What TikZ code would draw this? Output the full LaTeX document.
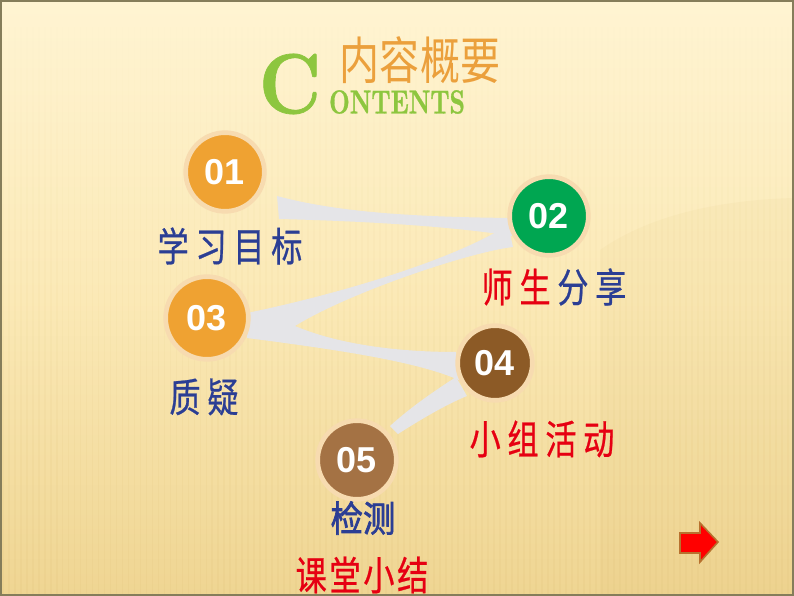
\documentclass[tikz,border=0pt]{standalone}
\usepackage{fontspec}
\usetikzlibrary{fadings}
\newfontfamily\cjkn[FakeStretch=0.78,FakeBold=0.6]{Noto Sans CJK SC}
\newfontfamily\cjkt[FakeStretch=0.79]{Noto Sans CJK SC}
\newfontfamily\cjkb[FakeStretch=0.9,FakeBold=2]{Noto Sans CJK SC}
\newfontfamily\numf{Liberation Sans}
\newfontfamily\didone[FakeStretch=0.72,FakeBold=0.8]{lmroman10-bold.otf}
\newfontfamily\didonec[FakeStretch=0.88,FakeBold=0.8]{lmroman10-bold.otf}
\definecolor{bgtop}{HTML}{FFF4D2}
\definecolor{bgmid}{HTML}{FBE9B6}
\definecolor{bgbot}{HTML}{EFD592}
\definecolor{stripe}{HTML}{D9B96A}
\definecolor{wedge}{HTML}{E5E5E8}
\definecolor{orng}{HTML}{EFA232}
\definecolor{grn}{HTML}{00A651}
\definecolor{brn}{HTML}{8C5A26}
\definecolor{lbrn}{HTML}{A47244}
\definecolor{halo}{HTML}{F7DBB0}
\definecolor{navy}{HTML}{2B3E94}
\definecolor{lred}{HTML}{E60012}
\definecolor{titleor}{HTML}{EBA03C}
\definecolor{cgreen}{HTML}{8DC63F}
\definecolor{frame}{HTML}{857D5A}
\definecolor{arrowedge}{HTML}{B8712E}
\tikzfading[name=stripefade, top color=transparent!100, bottom color=transparent!10]
\tikzset{
  circ/.style={circle, draw=halo, line width=3.5pt, inner sep=0pt, text=white,
    font=\numf\bfseries\fontsize{27}{27}\selectfont},
  lab/.style={inner sep=0pt, font=\cjkn\fontsize{30}{32}\selectfont},
  wedgefill/.style={fill=wedge, draw=none}
}
\begin{document}
\begin{tikzpicture}[x=0.75pt,y=-0.75pt]
\useasboundingbox (0,0) rectangle (794,596);
% background
\shade[top color=bgtop, bottom color=bgbot, middle color=bgmid] (0,0) rectangle (794,596);
\draw[stripe, opacity=0.13, line width=1.4pt, path fading=stripefade]
  \foreach \i in {3,9,...,794} { (\i,20) -- (\i,596) };
\fill[stripe, opacity=0.08] (600,596) -- (600,250) .. controls (650,215) and (720,200) .. (794,198) -- (794,596) -- cycle;
\draw[frame, line width=1.2pt] (0.8,0.8) rectangle (793.2,595.2);

% title
\node[inner sep=0pt, text=cgreen, font=\didonec\fontsize{64}{64}\selectfont] (bigc) at (290,84) {C};
\node[inner sep=0pt, text=cgreen, font=\didone\fontsize{25}{25}\selectfont] (ontents) at (397,102) {ONTENTS};
\node[inner sep=0pt, text=titleor, font=\cjkt\fontsize{38}{40}\selectfont] (title) at (420,60) {内容概要};

% connectors (tapered grey bands)
\coordinate (a1) at (277,196);
\coordinate (a2) at (512,218);
\coordinate (a3) at (512,236);
\coordinate (a4) at (279,219);
\fill[wedgefill] (a1) .. controls (340,213) and (420,217) .. (a2) -- (a3)
  .. controls (450,226) and (360,221) .. (a4) -- cycle;

\coordinate (b1) at (508,225);
\coordinate (b2) at (247,313);
\coordinate (b3) at (247,338);
\coordinate (b4) at (461,381);
\coordinate (b5) at (456,352);
\coordinate (b6) at (295,326);
\coordinate (b7) at (513,247);
\fill[wedgefill] (b1) .. controls (450,262) and (330,296) .. (b2) -- (b3)
  .. controls (340,350) and (420,362) .. (b4) -- (b5)
  .. controls (400,352) and (340,345) .. (b6)
  .. controls (350,292) and (470,252) .. (b7) -- cycle;

\coordinate (d1) at (390,426);
\coordinate (d2) at (456,377);
\coordinate (d3) at (467,396);
\coordinate (d4) at (398,434);
\fill[wedgefill] (d1) .. controls (412,406) and (436,390) .. (d2) -- (d3)
  .. controls (445,405) and (420,420) .. (d4) -- cycle;

% circles
\node[circ, fill=orng, minimum size=59pt] (c1) at (225,172) {01};
\node[circ, fill=grn,  minimum size=59pt] (c2) at (549,216) {02};
\node[circ, fill=orng, minimum size=62pt] (c3) at (207,318) {03};
\node[circ, fill=brn,  minimum size=56pt] (c4) at (495,363) {04};
\node[circ, fill=lbrn, minimum size=59pt] (c5) at (357,460) {05};

% labels
\node[lab, text=navy] (l1) at (230,246) {学\hspace{5pt}习\hspace{5pt}目\hspace{5pt}标};
\node[lab] (l2) at (554,287) {\textcolor{lred}{师\hspace{5pt}生}\hspace{5pt}\textcolor{navy}{分\hspace{5pt}享}};
\node[lab, text=navy] (l3) at (204,397) {质\hspace{5pt}疑};
\node[lab, text=lred] (l4) at (542,439) {小\hspace{5pt}组\hspace{5pt}活\hspace{5pt}动};
\node[inner sep=0pt, text=navy, font=\cjkb\fontsize{27}{28}\selectfont] (l5) at (363,518) {检测};
\node[lab, text=lred] (l6) at (362,575) {课\hspace{2pt}堂\hspace{2pt}小\hspace{2pt}结};

% next arrow
\draw[fill=red, draw=arrowedge, line width=1.2pt, line join=miter]
  (680,533) -- (700,533) -- (700,523) -- (718,542) -- (700,562) -- (700,553) -- (680,553) -- cycle;
\end{tikzpicture}
\end{document}
